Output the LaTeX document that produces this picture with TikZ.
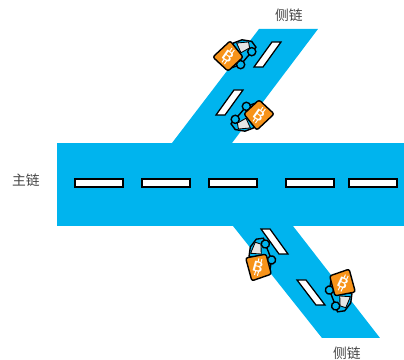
\documentclass[tikz,border=0pt]{standalone}
\usepackage{fontspec}
\newfontfamily\cjk{Noto Sans CJK SC}
\definecolor{roadblue}{HTML}{00B4EE}
\definecolor{coinorange}{HTML}{F7931A}
\definecolor{labelgray}{HTML}{444444}
\tikzset{
  dashmark/.style={draw=black,line width=0.9pt,fill=white},
  chainlabel/.style={font=\cjk\fontsize{9.8}{11}\selectfont,text=labelgray},
}
\newcommand{\tcar}[5]{% x, y, rot angle, node name, coin letter angle
\begin{scope}[shift={(#1,#2)},rotate=#3,scale=1.08]
\draw[line width=1pt,line join=round,fill=roadblue] (5,-12) -- (13,-15) -- (22,-13.5) -- (26,-8) -- (22,-4) -- (11.7,8) -- (3,11) -- cycle;
\draw[line width=0.6pt,fill=black!10] (8,-12) -- (19,-13) -- (20,-7.5) -- (12,-3) -- cycle;
\draw[line width=1pt,fill=roadblue] (11.7,8) circle (3.8);
\draw[line width=1pt,fill=roadblue] (22,-4) circle (3.8);
\draw[line width=1pt,line join=round,rounded corners=1.5pt,fill=coinorange] (-14,1) -- (2,-14) -- (14,1) -- (0,14) -- cycle;
\begin{scope}[rotate=-#3+#5]
\draw[white,line width=0.7pt] (-1.2,-8) -- (-1.2,-4) (1.6,-8) -- (1.6,-4) (-1.2,4) -- (-1.2,8) (1.6,4) -- (1.6,8);
\end{scope}
\node[text=white,font=\sffamily\bfseries\fontsize{10.5}{11}\selectfont,inner sep=0pt,rotate=#5] (#4) at (0,0) {B};
\end{scope}
}

\begin{document}
\begin{tikzpicture}[x=0.025cm,y=-0.025cm]
\useasboundingbox (0,0) rectangle (404,360);

%%%%%
\fill[roadblue] (172,143) -- (259,29) -- (318,29) -- (232,143) -- cycle;
\fill[roadblue] (233,226) -- (293,226) -- (380,338) -- (322,338) -- cycle;
\fill[roadblue] (57,143) -- (404,143) -- (404,226) -- (57,226) -- cycle;

%%%%%
\def\pos{183}
\draw[dashmark] (75,\pos-4) -- (123,\pos-4) -- (123,\pos+4) -- (75,\pos+4) -- cycle;
\draw[dashmark] (142,\pos-4) -- (190,\pos-4) -- (190,\pos+4) -- (142,\pos+4) -- cycle;
\draw[dashmark] (209,\pos-4) -- (257,\pos-4) -- (257,\pos+4) -- (209,\pos+4) -- cycle;
\draw[dashmark] (286,\pos-4) -- (334,\pos-4) -- (334,\pos+4) -- (286,\pos+4) -- cycle;
\draw[dashmark] (349,\pos-4) -- (397,\pos-4) -- (397,\pos+4) -- (349,\pos+4) -- cycle;

%%%%%
\draw[dashmark] (254,67) -- (272,42) -- (281,42) -- (263,67) -- cycle;
\draw[dashmark] (216,115) -- (234,90) -- (243,90) -- (225,115) -- cycle;
\draw[dashmark] (261,229) -- (270,229) -- (288,254) -- (279,254) -- cycle;
\draw[dashmark] (297,280) -- (306,280) -- (325,305) -- (316,305) -- cycle;

%%%%%
\tcar{228}{56}{0}{coinA}{-35}
\tcar{259}{115}{180}{coinB}{-35}
\tcar{258}{267}{62}{coinC}{-15}
\tcar{343}{283}{-118}{coinD}{-25}

%%%%%
\node[chainlabel] (sideA) at (289,15) {侧链};
\node[chainlabel] (sideB) at (347,353) {侧链};
\node[chainlabel] (mainC) at (26,180) {主链};

\end{tikzpicture}
\end{document}
